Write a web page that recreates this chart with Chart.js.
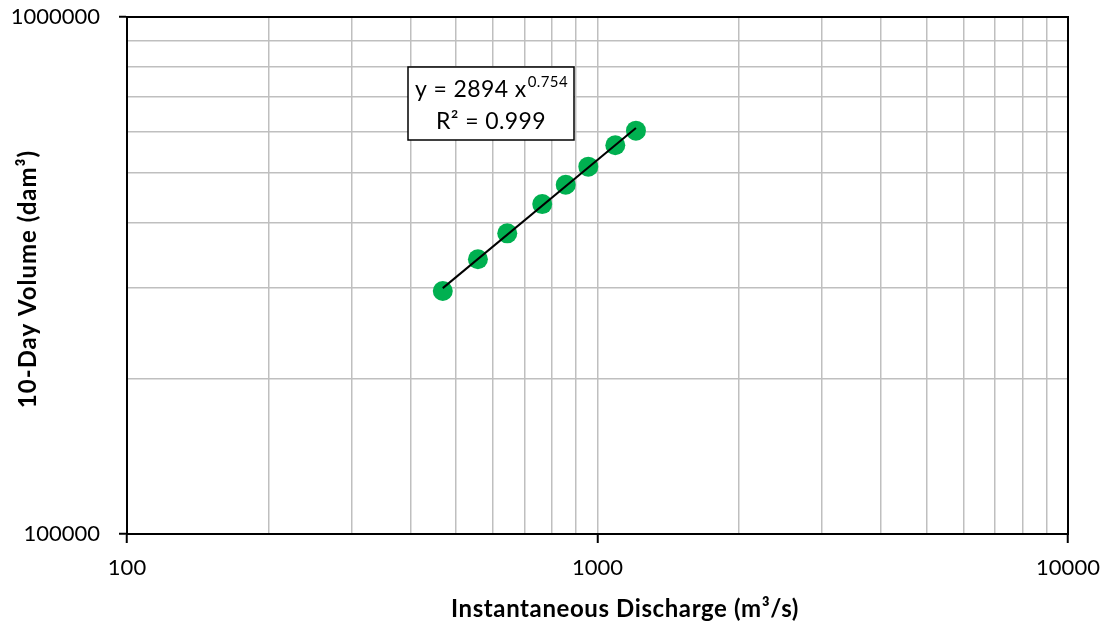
<!DOCTYPE html>
<html>
<head>
<meta charset="utf-8">
<script src="https://cdn.jsdelivr.net/npm/chart.js@4/dist/chart.umd.min.js"></script>
<style>
  html, body { margin: 0; padding: 0; background: #fff; }
  #wrap { width: 1109px; height: 627px; position: relative; }
</style>
</head>
<body>
<div id="wrap"><canvas id="c" width="1109" height="627"></canvas></div>
<script>
// Observed events: instantaneous discharge (m³/s) vs 10-day volume (dam³)
const discharge = [469, 557, 643, 763, 856, 956, 1091, 1207];
const volume10Day = [295100, 339900, 381600, 434700, 473800, 513400, 564800, 602700];

// Power-law fit y = a·x^b
const fitA = 2894;
const fitB = 0.754;
const fitR2 = 0.999;

// Gridline positions and labelled ticks
const xGridValues = [100, 200, 300, 400, 500, 600, 700, 800, 900, 1000,
                     2000, 3000, 4000, 5000, 6000, 7000, 8000, 9000, 10000];
const xTickLabels = [100, 1000, 10000];
const yGridValues = [100000, 200000, 300000, 400000, 500000, 600000, 700000, 800000, 900000, 1000000];
const yTickLabels = [100000, 1000000];

const xTitle = 'Instantaneous Discharge (m³/s)';
const yTitle = '10-Day Volume (dam³)';

const xMin = Math.min(...discharge), xMax = Math.max(...discharge);
const fitLine = [xMin, xMax].map(x => ({ x, y: fitA * Math.pow(x, fitB) }));

const FONT = 'Lato, "Open Sans", "DejaVu Sans", sans-serif';
const GRID = '#bfbfbf';

const frame = {
  id: 'frame',
  afterDatasetsDraw(chart) {
    const { ctx, chartArea: a } = chart;
    ctx.save();
    ctx.strokeStyle = '#000';
    ctx.lineWidth = 2;
    ctx.strokeRect(a.left, a.top, a.right - a.left, a.bottom - a.top);

    // fit equation box
    const bx = 408, by = 67, bw = 166, bh = 73;
    ctx.fillStyle = '#fff';
    ctx.fillRect(bx, by, bw, bh);
    ctx.lineWidth = 1.5;
    ctx.strokeRect(bx, by, bw, bh);
    ctx.fillStyle = '#000';
    ctx.textBaseline = 'alphabetic';
    ctx.textAlign = 'left';
    ctx.letterSpacing = '0.4px';
    const main = 'y = ' + fitA + ' x';
    ctx.font = '23px ' + FONT;
    const wMain = ctx.measureText(main).width;
    ctx.font = '15px ' + FONT;
    const sup = fitB.toFixed(3);
    const wSup = ctx.measureText(sup).width;
    const cx = bx + bw / 2;
    const x0 = cx - (wMain + wSup) / 2;
    ctx.font = '23px ' + FONT;
    ctx.fillText(main, x0, 97);
    ctx.font = '15px ' + FONT;
    ctx.fillText(sup, x0 + wMain + 1, 87);
    ctx.font = '23px ' + FONT;
    ctx.textAlign = 'center';
    ctx.fillText('R² = ' + fitR2.toFixed(3), cx, 129);
    ctx.restore();
  },
  afterDraw(chart) {
    const { ctx } = chart;
    ctx.save();
    ctx.fillStyle = '#000';
    ctx.font = 'bold 24px ' + FONT;
    ctx.textAlign = 'center';
    ctx.textBaseline = 'middle';
    ctx.letterSpacing = '0.6px';
    ctx.fillText(xTitle, 625, 609);
    ctx.letterSpacing = '1px';
    ctx.translate(28, 279);
    ctx.rotate(-Math.PI / 2);
    ctx.fillText(yTitle, 0, 0);
    ctx.restore();
  }
};

function gridTicks(values, labels) {
  return scale => {
    scale.ticks = values.map(v => ({ value: v, major: labels.includes(v) }));
  };
}
const isLabelled = labels => ctx => (ctx.tick && labels.includes(ctx.tick.value)) ? '#000' : 'rgba(0,0,0,0)';

new Chart(document.getElementById('c'), {
  type: 'scatter',
  data: {
    datasets: [
      {
        type: 'line',
        data: fitLine,
        borderColor: '#000',
        borderWidth: 2,
        pointRadius: 0,
        fill: false,
        order: 0
      },
      {
        data: discharge.map((x, i) => ({ x, y: volume10Day[i] })),
        backgroundColor: '#00b050',
        borderWidth: 0,
        pointRadius: 10,
        pointHoverRadius: 10,
        order: 1
      }
    ]
  },
  options: {
    responsive: false,
    animation: false,
    events: [],
    layout: { padding: { left: 0, top: 17, right: 41, bottom: 0 } },
    plugins: { legend: { display: false }, tooltip: { enabled: false } },
    scales: {
      x: {
        type: 'logarithmic',
        min: 100, max: 10000,
        afterBuildTicks: gridTicks(xGridValues, xTickLabels),
        afterFit: s => { s.height = 93; s.paddingLeft = 0; s.paddingRight = 0; },
        border: { color: '#000', width: 2 },
        grid: { color: GRID, lineWidth: 1.5, tickLength: 9, tickColor: isLabelled(xTickLabels), tickWidth: 2 },
        ticks: {
          autoSkip: false, maxRotation: 0, padding: 12,
          color: '#000', font: { family: FONT, size: 22 },
          callback: v => xTickLabels.includes(v) ? String(v) : ''
        }
      },
      y: {
        type: 'logarithmic',
        min: 100000, max: 1000000,
        afterBuildTicks: gridTicks(yGridValues, yTickLabels),
        afterFit: s => { s.width = 127; s.paddingTop = 0; s.paddingBottom = 0; },
        border: { color: '#000', width: 2 },
        grid: { color: GRID, lineWidth: 1.5, tickLength: 8, tickColor: isLabelled(yTickLabels), tickWidth: 2 },
        ticks: {
          autoSkip: false, padding: 19,
          color: '#000', font: { family: FONT, size: 22 },
          callback: v => yTickLabels.includes(v) ? String(v) : ''
        }
      }
    }
  },
  plugins: [frame]
});
</script>
</body>
</html>
